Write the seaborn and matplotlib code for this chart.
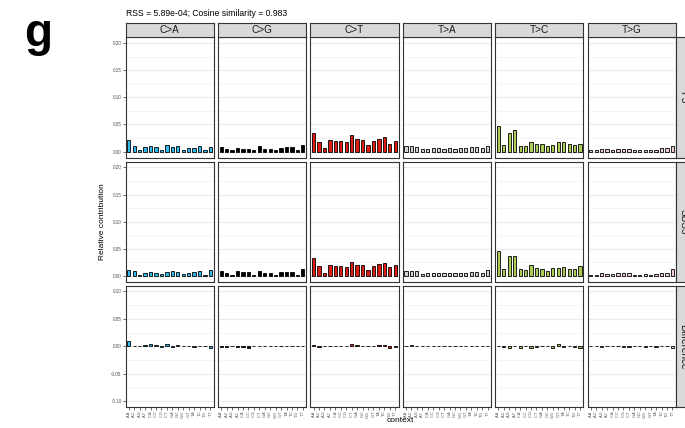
import matplotlib
matplotlib.use("Agg")
import matplotlib.pyplot as plt
import pandas as pd
import seaborn as sns

contexts = ["A.A", "A.C", "A.G", "A.T", "C.A", "C.C", "C.G", "C.T",
            "G.A", "G.C", "G.G", "G.T", "T.A", "T.C", "T.G", "T.T"]
substitutions = ["C>A", "C>G", "C>T", "T>A", "T>C", "T>G"]
sub_colors = ["#2EBAED", "#000000", "#DE1C14", "#D4D2D2", "#ADCC54", "#F0D0CE"]
row_labels = ["P5", "SBS5", "Difference"]
title = "RSS = 5.89e-04; Cosine similarity = 0.983"
panel_letter = "g"

# relative contribution of each trinucleotide context, de novo signature
p5_ca = [0.021, 0.011, 0.003, 0.009, 0.011, 0.008, 0.003, 0.012, 0.0085, 0.010, 0.0035, 0.0065, 0.007, 0.0095, 0.0028, 0.0085]
p5_cg = [0.0085, 0.0048, 0.0022, 0.0065, 0.0055, 0.0055, 0.0025, 0.0105, 0.0055, 0.0052, 0.002, 0.0067, 0.0075, 0.0078, 0.002, 0.0125]
p5_ct = [0.035, 0.0168, 0.006, 0.0207, 0.0188, 0.0202, 0.0171, 0.030, 0.0225, 0.021, 0.0115, 0.0195, 0.0235, 0.027, 0.0135, 0.019]
p5_ta = [0.0095, 0.0105, 0.0092, 0.0038, 0.0055, 0.006, 0.0062, 0.0055, 0.0068, 0.0055, 0.006, 0.0062, 0.0075, 0.0078, 0.0065, 0.0102]
p5_tc = [0.0462, 0.0122, 0.0345, 0.039, 0.0102, 0.011, 0.017, 0.0138, 0.0135, 0.0095, 0.0128, 0.0178, 0.0168, 0.0135, 0.0122, 0.0142]
p5_tg = [0.0025, 0.0022, 0.0048, 0.0045, 0.0032, 0.0052, 0.0048, 0.0042, 0.0022, 0.002, 0.0025, 0.0028, 0.0032, 0.0062, 0.0058, 0.0095]

# COSMIC SBS5
sbs5_ca = [0.012, 0.0098, 0.0025, 0.006, 0.0067, 0.006, 0.0037, 0.0075, 0.0098, 0.0073, 0.0037, 0.006, 0.008, 0.0085, 0.0025, 0.012]
sbs5_cg = [0.0095, 0.0055, 0.002, 0.0085, 0.0073, 0.0078, 0.0022, 0.0095, 0.0055, 0.0052, 0.002, 0.0067, 0.0073, 0.0075, 0.002, 0.0125]
sbs5_ct = [0.033, 0.0177, 0.006, 0.0207, 0.019, 0.019, 0.0171, 0.025, 0.0205, 0.0207, 0.011, 0.0185, 0.0215, 0.024, 0.0165, 0.020]
sbs5_ta = [0.0085, 0.0085, 0.0095, 0.004, 0.0055, 0.006, 0.006, 0.0055, 0.006, 0.0055, 0.006, 0.006, 0.0075, 0.007, 0.0065, 0.0105]
sbs5_tc = [0.0458, 0.0134, 0.0378, 0.0378, 0.013, 0.011, 0.020, 0.0155, 0.0134, 0.0095, 0.0156, 0.0146, 0.0175, 0.0125, 0.013, 0.018]
sbs5_tg = [0.0025, 0.0022, 0.0058, 0.0042, 0.0035, 0.0055, 0.0058, 0.0052, 0.0025, 0.002, 0.0035, 0.0028, 0.0038, 0.0055, 0.0062, 0.0125]

p5_all = [p5_ca, p5_cg, p5_ct, p5_ta, p5_tc, p5_tg]
sbs5_all = [sbs5_ca, sbs5_cg, sbs5_ct, sbs5_ta, sbs5_tc, sbs5_tg]

records = []
for sub, p_vals, s_vals in zip(substitutions, p5_all, sbs5_all):
    for ctx, a, b in zip(contexts, p_vals, s_vals):
        records.append({"substitution": sub, "context": ctx, "P5": a, "SBS5": b})
wide = pd.DataFrame(records)
wide["Difference"] = wide["P5"] - wide["SBS5"]
long = wide.melt(id_vars=["substitution", "context"], value_vars=row_labels,
                 var_name="profile", value_name="value")

sns.set_style("white")
plt.rcParams["font.family"] = ["Liberation Sans", "DejaVu Sans"]

W, H = 685, 428
fig = plt.figure(figsize=(W / 100, H / 100), dpi=100)


def box(x, y, w, h):
    """pixel box (top-left origin) -> figure rect"""
    return [x / W, 1 - (y + h) / H, w / W, h / H]


col_left, col_step, col_w = 125.5, 92.4, 88.2
row_top, row_step, row_h = 37.0, 124.5, 120.5
strip_h = 14.0
border = "#333333"

row_limits = [(-0.011, 0.211), (-0.011, 0.211), (-0.11, 0.11)]
row_major = [[0.0, 0.05, 0.10, 0.15, 0.20], [0.0, 0.05, 0.10, 0.15, 0.20],
             [-0.10, -0.05, 0.0, 0.05, 0.10]]
row_minor = [[0.025, 0.075, 0.125, 0.175], [0.025, 0.075, 0.125, 0.175],
             [-0.075, -0.025, 0.025, 0.075]]

for ri, prof in enumerate(row_labels):
    for ci, sub in enumerate(substitutions):
        x0 = col_left + ci * col_step
        y0 = row_top + ri * row_step
        ax = fig.add_axes(box(x0, y0, col_w, row_h))
        sub_df = long[(long["profile"] == prof) & (long["substitution"] == sub)]
        sns.barplot(data=sub_df, x="context", y="value", order=contexts,
                    color=sub_colors[ci], saturation=1, edgecolor="black",
                    linewidth=0.6, width=0.6, errorbar=None, ax=ax, zorder=3)
        ax.set_xlim(-0.6, 15.6)
        ax.set_ylim(*row_limits[ri])
        ax.set_yticks(row_major[ri])
        ax.set_yticks(row_minor[ri], minor=True)
        ax.grid(axis="y", which="major", color="#EBEBEB", lw=0.8, zorder=0)
        ax.grid(axis="y", which="minor", color="#F2F2F2", lw=0.5, zorder=0)
        ax.grid(axis="x", visible=False)
        ax.set_axisbelow(True)
        ax.set_xlabel("")
        ax.set_ylabel("")
        for sp in ax.spines.values():
            sp.set_color(border)
            sp.set_linewidth(0.8)
            sp.set_visible(True)
        ax.tick_params(axis="both", which="minor", length=0)
        if ci == 0:
            ax.set_yticklabels([f"{v:.2f}" for v in row_major[ri]])
            ax.tick_params(axis="y", which="major", labelsize=3.3,
                           labelcolor="#4D4D4D", length=2.2, width=0.5,
                           color=border, pad=0.6, left=True)
        else:
            ax.tick_params(axis="y", which="major", left=False, labelleft=False)
        if ri == len(row_labels) - 1:
            ax.set_xticks(range(len(contexts)))
            ax.set_xticklabels(contexts, rotation=90)
            ax.tick_params(axis="x", which="major", labelsize=2.8,
                           labelcolor="#4D4D4D", length=2.2, width=0.5,
                           color=border, pad=0.6, bottom=True)
        else:
            ax.tick_params(axis="x", which="major", bottom=False, labelbottom=False)

        # column strips on top
        if ri == 0:
            sax = fig.add_axes(box(x0, row_top - strip_h, col_w, strip_h))
            sax.set_facecolor("#D9D9D9")
            sax.set_xticks([])
            sax.set_yticks([])
            for sp in sax.spines.values():
                sp.set_color(border)
                sp.set_linewidth(0.8)
            sax.text(0.5, 0.47, sub, ha="center", va="center", fontsize=7.2,
                     color="#1A1A1A", transform=sax.transAxes)

    # row strips on the right
    y0 = row_top + ri * row_step
    rx = col_left + 5 * col_step + col_w + 0.5
    rax = fig.add_axes(box(rx, y0, strip_h, row_h))
    rax.set_facecolor("#D9D9D9")
    rax.set_xticks([])
    rax.set_yticks([])
    for sp in rax.spines.values():
        sp.set_color(border)
        sp.set_linewidth(0.8)
    rax.text(0.5, 0.5, prof, ha="center", va="center", fontsize=7.2,
             color="#1A1A1A", rotation=-90, transform=rax.transAxes)

fig.text(col_left / W, 1 - 14 / H, title, ha="left", va="center",
         fontsize=6.2, color="black")
fig.text(103 / W, 1 - 222 / H, "Relative contribution", rotation=90,
         ha="center", va="center", fontsize=6.0, color="black")
fig.text(400 / W, 1 - 421 / H, "context", ha="center", va="center",
         fontsize=6.0, color="black")
fig.text(24 / W, 1 - 46 / H, panel_letter, ha="left", va="baseline",
         fontsize=33, fontweight="bold", color="black")

fig.savefig("out.png", dpi=100)
